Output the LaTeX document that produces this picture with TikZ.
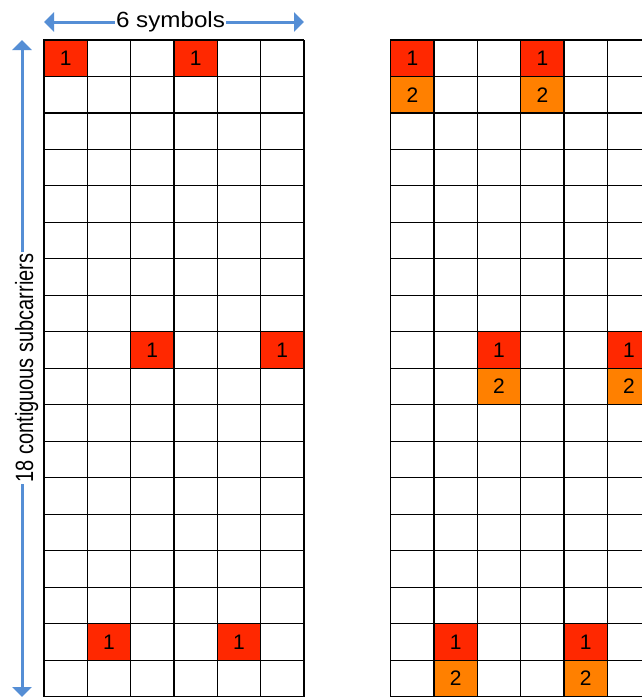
\documentclass[tikz,border=0pt]{standalone}
\usepackage{fontspec}
\setmainfont{Liberation Sans}
\usetikzlibrary{arrows.meta}
\definecolor{cellred}{RGB}{255,40,0}
\definecolor{cellorange}{RGB}{255,128,0}
\definecolor{arrowblue}{RGB}{85,142,213}
\begin{document}
\begin{tikzpicture}[x=1pt,y=-1pt,
  gridline/.style={draw=black,line width=1.1pt},
  cellbox/.style={draw=black,line width=1.1pt,minimum width=43.333pt,minimum height=36.48pt,inner sep=0pt,font=\fontsize{21}{21}\selectfont},
  redcell/.style={cellbox,fill=cellred},
  orangecell/.style={cellbox,fill=cellorange},
  bluearrow/.style={draw=arrowblue,line width=3pt,{Triangle[width=19pt,length=10pt]}-{Triangle[width=19pt,length=10pt]}},
  labelbox/.style={fill=white,inner xsep=1.5pt,inner ysep=2pt}
]
\useasboundingbox (0,0) rectangle (642,697);
\clip (0,0) rectangle (642,697);
\fill[white] (0,0) rectangle (642,697);
% left grid
\foreach \i in {0,...,6} \draw[gridline] ({44+\i*43.333},40) -- ({44+\i*43.333},696.7);
\foreach \j in {0,...,18} \draw[gridline] (44,{40+\j*36.48}) -- (304,{40+\j*36.48});
% right grid
\foreach \i in {0,...,6} \draw[gridline] ({390.7+\i*43.333},40) -- ({390.7+\i*43.333},696.7);
\foreach \j in {0,...,18} \draw[gridline] (390.7,{40+\j*36.48}) -- (650.7,{40+\j*36.48});
% left cells
\foreach \c/\r [count=\k] in {0/0,3/0,2/8,5/8,1/16,4/16}
  \node[redcell] (L\k) at ({44+(\c+0.5)*43.333},{40+(\r+0.5)*36.48}) {1};
% right cells
\foreach \c/\r [count=\k] in {0/0,3/0,2/8,5/8,1/16,4/16}{
  \node[redcell] (Ra\k) at ({390.7+(\c+0.5)*43.333},{40+(\r+0.5)*36.48}) {1};
  \node[orangecell] (Rb\k) at ({390.7+(\c+0.5)*43.333},{40+(\r+1.5)*36.48}) {2};
}
% arrows
\coordinate (hl) at (44,22);
\coordinate (hr) at (304,22);
\draw[bluearrow] (hl) -- (hr);
\node[labelbox,anchor=base,font=\fontsize{22}{22}\selectfont] (hlabel) at (170.5,27.3) {\scalebox{1.1}[1]{6 symbols}};
\coordinate (vt) at (22,40);
\coordinate (vb) at (22,697);
\draw[bluearrow] (vt) -- (vb);
\node[labelbox,anchor=base,rotate=90,font=\fontsize{25}{25}\selectfont] (vlabel) at (33,368) {\scalebox{0.8}[1]{18 contiguous subcarriers}};
\end{tikzpicture}
\end{document}
